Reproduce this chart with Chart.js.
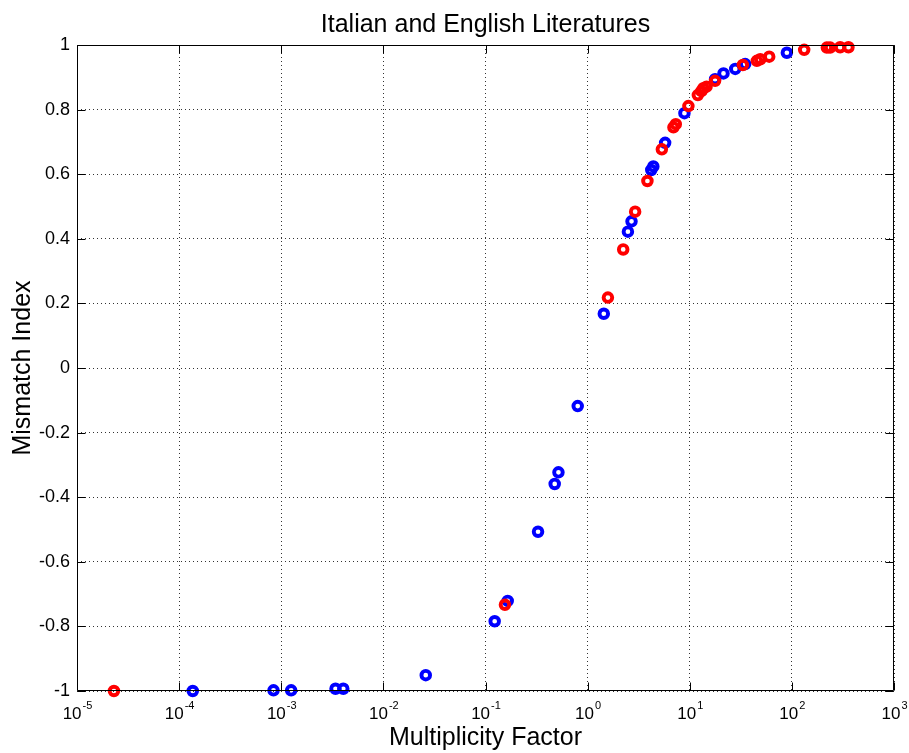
<!DOCTYPE html>
<html>
<head>
<meta charset="utf-8">
<script src="https://cdn.jsdelivr.net/npm/chart.js@4"></script>
<style>
	html, body { margin: 0; padding: 0; background: #fff; }
	canvas { display: block; }
</style>
</head>
<body>
<canvas id="mismatchChart" width="909" height="753"></canvas>
<script>
// Multiplicity factor vs. mismatch index, two literatures
const blueX = [1.36e-4, 8.4e-4, 1.25e-3, 3.4e-3, 4.05e-3, 0.026, 0.123, 0.165, 0.327, 0.476, 0.518, 0.80,
	1.44, 2.48, 2.69, 4.2, 4.4, 5.74, 8.87, 17.7, 21.4, 27.9, 34.9, 89.3];
const blueY = [-1.0, -0.998, -0.998, -0.993, -0.993, -0.951, -0.784, -0.721, -0.507, -0.359, -0.323, -0.118,
	0.168, 0.422, 0.454, 0.613, 0.624, 0.697, 0.789, 0.894, 0.912, 0.926, 0.941, 0.976];

const redX = [2.3e-5, 0.155, 1.58, 2.23, 2.92, 3.85, 5.33, 6.92, 7.3, 9.7, 12.0, 13.0, 13.6, 14.6, 17.7,
	33.1, 45.4, 49, 60, 132, 220, 237, 297, 358];
const redY = [-1.0, -0.733, 0.218, 0.367, 0.484, 0.579, 0.677, 0.745, 0.755, 0.811, 0.845, 0.857, 0.866, 0.871, 0.889,
	0.938, 0.951, 0.956, 0.964, 0.985, 0.992, 0.992, 0.993, 0.993];

const xDecades = [1e-5, 1e-4, 1e-3, 1e-2, 1e-1, 1e0, 1e1, 1e2, 1e3];
const yTicks = [-1, -0.8, -0.6, -0.4, -0.2, 0, 0.2, 0.4, 0.6, 0.8, 1];

const FONT = 'Liberation Sans, Arial, Helvetica, sans-serif';

const toPoints = (xs, ys) => xs.map((v, i) => ({ x: v, y: ys[i] }));

// box around the plot, inward ticks on all sides, 10^n labels under the x axis
const frame = {
	id: 'frame',
	afterDraw(chart) {
		const { ctx, chartArea: a, scales: { x, y } } = chart;
		const L = a.left + 0.5, R = a.right - 0.5, T = a.top + 0.5, B = a.bottom - 0.5;
		const tl = 8;
		ctx.save();
		ctx.strokeStyle = '#000';
		ctx.lineWidth = 1;
		ctx.beginPath();
		ctx.rect(L, T, R - L, B - T);
		x.ticks.forEach(t => {
			const px = Math.round(x.getPixelForValue(t.value)) + 0.5;
			ctx.moveTo(px, B); ctx.lineTo(px, B - tl);
			ctx.moveTo(px, T); ctx.lineTo(px, T + tl);
		});
		y.ticks.forEach(t => {
			const py = Math.round(y.getPixelForValue(t.value)) + 0.5;
			ctx.moveTo(L, py); ctx.lineTo(L + tl, py);
			ctx.moveTo(R, py); ctx.lineTo(R - tl, py);
		});
		ctx.stroke();

		ctx.fillStyle = '#000';
		ctx.textBaseline = 'alphabetic';
		ctx.textAlign = 'left';
		x.ticks.forEach(t => {
			const exp = String(Math.round(Math.log10(t.value)));
			ctx.font = '17px ' + FONT;
			const wBase = ctx.measureText('10').width;
			ctx.font = '11px ' + FONT;
			const wExp = ctx.measureText(exp).width;
			const px = x.getPixelForValue(t.value);
			const start = px - (wBase + wExp) / 2;
			ctx.font = '17px ' + FONT;
			ctx.fillText('10', start, a.bottom + 28);
			ctx.font = '11px ' + FONT;
			ctx.fillText(exp, start + wBase + 1, a.bottom + 18);
		});
		ctx.restore();
	}
};

new Chart(document.getElementById('mismatchChart'), {
	type: 'scatter',
	data: {
		datasets: [{
			label: 'red',
			data: toPoints(redX, redY),
			borderColor: '#ff0000',
			backgroundColor: 'rgba(0,0,0,0)',
			pointRadius: 4.3,
			borderWidth: 3.9,
			clip: false
		}, {
			label: 'blue',
			data: toPoints(blueX, blueY),
			borderColor: '#0000ff',
			backgroundColor: 'rgba(0,0,0,0)',
			pointRadius: 4.3,
			borderWidth: 3.9,
			clip: false
		}]
	},
	options: {
		responsive: false,
		animation: false,
		layout: { padding: { left: 0, right: 15, top: 0, bottom: 0 } },
		plugins: {
			legend: { display: false },
			tooltip: { enabled: false },
			title: {
				display: true,
				fullSize: false,
				text: 'Italian and English Literatures',
				color: '#000',
				font: { family: FONT, size: 25, weight: 'normal', lineHeight: 1.2 },
				padding: { top: 10, bottom: 5 }
			}
		},
		scales: {
			x: {
				type: 'logarithmic',
				min: 1e-5,
				max: 1e3,
				afterBuildTicks: scale => { scale.ticks = xDecades.map(v => ({ value: v })); },
				afterFit: scale => { scale.height = 62; },
				ticks: { display: false },
				grid: { color: '#333', lineWidth: 1, drawTicks: false },
				border: { display: false, dash: [1, 3] },
				title: {
					display: true,
					text: 'Multiplicity Factor',
					color: '#000',
					font: { family: FONT, size: 25, lineHeight: 1.2 },
					padding: { top: 0, bottom: 0 }
				}
			},
			y: {
				type: 'linear',
				min: -1,
				max: 1,
				afterBuildTicks: scale => { scale.ticks = yTicks.map(v => ({ value: v })); },
				afterFit: scale => { scale.width = 77; },
				ticks: {
					color: '#000',
					padding: 7,
					font: { family: FONT, size: 18 },
					callback: v => String(Math.round(v * 10) / 10)
				},
				grid: { color: '#333', lineWidth: 1, drawTicks: false },
				border: { display: false, dash: [1, 3] },
				title: {
					display: true,
					text: 'Mismatch Index',
					color: '#000',
					font: { family: FONT, size: 25, lineHeight: 1.2 },
					padding: { top: 8, bottom: 0 }
				}
			}
		}
	},
	plugins: [frame]
});
</script>
</body>
</html>
